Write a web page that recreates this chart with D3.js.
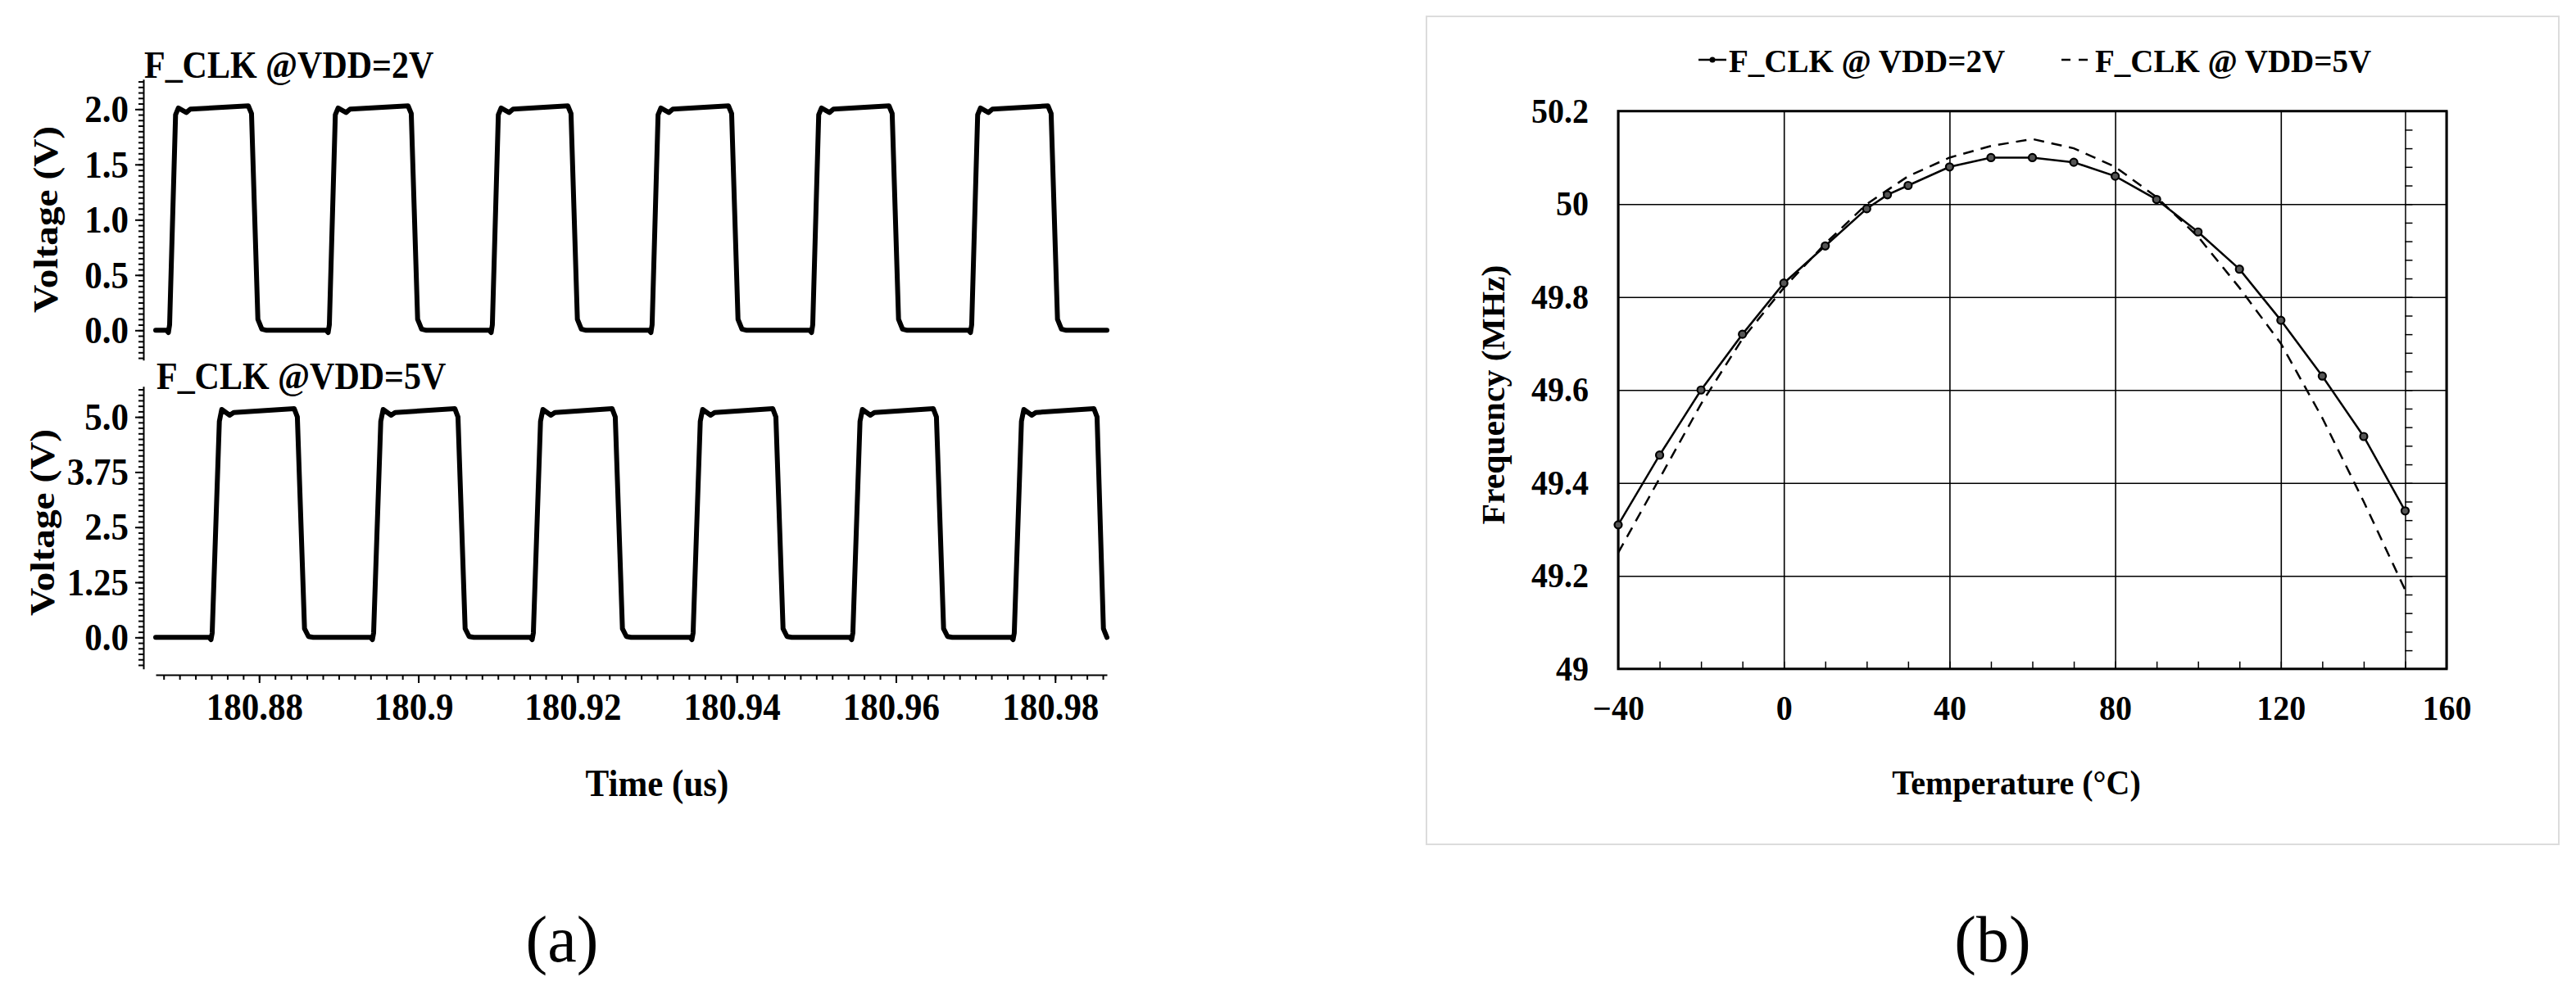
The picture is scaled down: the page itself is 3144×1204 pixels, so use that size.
<!DOCTYPE html>
<html>
<head>
<meta charset="utf-8">
<script src="https://cdnjs.cloudflare.com/ajax/libs/d3/7.8.5/d3.min.js"></script>
<style>
  body { margin: 0; background: #fff; }
  text { font-family: "Liberation Serif", "Times New Roman", serif; font-weight: bold; fill: #000; }
</style>
</head>
<body>
<div id="chart"></div>
<script>
var width = 3144;
var height = 1204;

// ---- (a) clock waveforms: times are ns after 180.86 us ----
var timeOrigin = 180.86;
var clk2Time = [7.0,
  8.35, 8.60, 8.75, 9.50, 9.85, 10.85, 11.35, 18.64, 19.04, 19.84, 20.34, 20.94,
  28.42, 28.67, 28.82, 29.57, 29.92, 30.92, 31.42, 38.71, 39.11, 39.91, 40.41, 41.01,
  48.90, 49.15, 49.30, 50.05, 50.40, 51.40, 51.90, 58.78, 59.18, 59.98, 60.48, 61.08,
  68.97, 69.22, 69.37, 70.12, 70.47, 71.47, 71.97, 78.96, 79.36, 80.16, 80.66, 81.26,
  89.15, 89.40, 89.55, 90.30, 90.65, 91.65, 92.15, 99.13, 99.53, 100.33, 100.83, 101.43,
  109.12, 109.37, 109.52, 110.27, 110.62, 111.62, 112.12, 119.10, 119.50, 120.30, 120.80, 121.40,
  126.51];
var clk2Volt = [0.0,
  0.0, -0.02, 0.05, 1.95, 2.01, 1.97, 2.0, 2.03, 1.96, 0.1, 0.01, 0.0,
  0.0, -0.02, 0.05, 1.95, 2.01, 1.97, 2.0, 2.03, 1.96, 0.1, 0.01, 0.0,
  0.0, -0.02, 0.05, 1.95, 2.01, 1.97, 2.0, 2.03, 1.96, 0.1, 0.01, 0.0,
  0.0, -0.02, 0.05, 1.95, 2.01, 1.97, 2.0, 2.03, 1.96, 0.1, 0.01, 0.0,
  0.0, -0.02, 0.05, 1.95, 2.01, 1.97, 2.0, 2.03, 1.96, 0.1, 0.01, 0.0,
  0.0, -0.02, 0.05, 1.95, 2.01, 1.97, 2.0, 2.03, 1.96, 0.1, 0.01, 0.0,
  0.0];
var clk5Time = [7.0,
  13.70, 13.95, 14.10, 15.00, 15.30, 16.30, 16.80, 24.40, 24.80, 25.70, 26.20, 26.80,
  33.98, 34.23, 34.38, 35.28, 35.58, 36.58, 37.08, 44.58, 44.98, 45.88, 46.38, 46.98,
  54.05, 54.30, 54.45, 55.35, 55.65, 56.65, 57.15, 64.34, 64.74, 65.64, 66.14, 66.74,
  74.12, 74.37, 74.52, 75.42, 75.72, 76.72, 77.22, 84.52, 84.92, 85.82, 86.32, 86.92,
  94.19, 94.44, 94.59, 95.49, 95.79, 96.79, 97.29, 104.69, 105.09, 105.99, 106.49, 107.09,
  114.47, 114.72, 114.87, 115.77, 116.07, 117.07, 117.57, 124.87, 125.27, 126.07, 126.51];
var clk5Volt = [0.0,
  0.0, -0.05, 0.1, 4.9, 5.17, 5.04, 5.1, 5.19, 5.0, 0.2, 0.02, 0.0,
  0.0, -0.05, 0.1, 4.9, 5.17, 5.04, 5.1, 5.19, 5.0, 0.2, 0.02, 0.0,
  0.0, -0.05, 0.1, 4.9, 5.17, 5.04, 5.1, 5.19, 5.0, 0.2, 0.02, 0.0,
  0.0, -0.05, 0.1, 4.9, 5.17, 5.04, 5.1, 5.19, 5.0, 0.2, 0.02, 0.0,
  0.0, -0.05, 0.1, 4.9, 5.17, 5.04, 5.1, 5.19, 5.0, 0.2, 0.02, 0.0,
  0.0, -0.05, 0.1, 4.9, 5.17, 5.04, 5.1, 5.19, 5.0, 0.2, 0.0];
var timeTicks = [180.88, 180.9, 180.92, 180.94, 180.96, 180.98];
var volt2Ticks = [0, 0.5, 1.0, 1.5, 2.0];
var volt2Labels = ["0.0", "0.5", "1.0", "1.5", "2.0"];
var volt5Ticks = [0, 1.25, 2.5, 3.75, 5.0];
var volt5Labels = ["0.0", "1.25", "2.5", "3.75", "5.0"];

// ---- (b) frequency vs temperature ----
var temp2V = [-40, -30, -20, -10, 0, 10, 20, 25, 30, 40, 50, 60, 70, 80, 90, 100, 110, 120, 130, 140, 150];
var freq2V = [49.31, 49.46, 49.60, 49.72, 49.83, 49.91, 49.99, 50.02, 50.04, 50.08, 50.10, 50.10, 50.09, 50.06, 50.01, 49.94, 49.86, 49.75, 49.63, 49.50, 49.34];
var temp5V = [-40, -30, -20, -10, 0, 10, 20, 30, 40, 50, 60, 70, 80, 90, 100, 110, 120, 130, 140, 150];
var freq5V = [49.25, 49.41, 49.57, 49.71, 49.82, 49.915, 50.00, 50.06, 50.10, 50.125, 50.14, 50.12, 50.08, 50.015, 49.93, 49.82, 49.70, 49.54, 49.36, 49.17];
var tempTicks = [-40, 0, 40, 80, 120, 160];
var freqTicks = [49, 49.2, 49.4, 49.6, 49.8, 50, 50.2];
var freqLabels = ["49", "49.2", "49.4", "49.6", "49.8", "50", "50.2"];

var svg = d3.select("#chart")
  .append("svg")
  .attr("width", width)
  .attr("height", height)
  .style("background", "#fff");

function cleanAxis(g, size) {
  g.attr("font-family", null).attr("font-size", null);
  g.selectAll("text").style("font-size", size + "px");
  g.selectAll("line, path").attr("stroke", "#000");
}

// the scanned figure has slightly taller glyphs than the font: stretch text on screen-vertical
function stretchText(sel, s, rotated) {
  sel.each(function() {
    var b = this.getBBox();
    var t = d3.select(this).attr("transform") || "";
    if (rotated) {
      var cx = b.x + b.width / 2;
      t += " translate(" + cx + ",0) scale(" + s + ",1) translate(" + (-cx) + ",0)";
    } else {
      var cy = b.y + b.height / 2;
      t += " translate(0," + cy + ") scale(1," + s + ") translate(0," + (-cy) + ")";
    }
    d3.select(this).attr("transform", t);
  });
}

// ================= panel (a) =================
var panelA = svg.append("g").attr("class", "panel-a");
var xTime = d3.scaleLinear().domain([180.867, 180.98651]).range([190, 1351]);
var yTop = d3.scaleLinear().domain([-0.27, 2.27]).range([439.75, 96.85]);
var yBot = d3.scaleLinear().domain([-0.713, 5.695]).range([816.7, 471.7]);
var fsA = 43;
var stretchA = 1.1;

function drawVoltAxis(scale, minor, major, labels) {
  var gMinor = panelA.append("g")
    .attr("transform", "translate(175,0)")
    .call(d3.axisLeft(scale).tickValues(minor).tickSize(6).tickSizeOuter(0).tickFormat(""));
  gMinor.call(cleanAxis, fsA);
  gMinor.selectAll("path, line").attr("stroke-width", 2);
  var gMajor = panelA.append("g")
    .attr("transform", "translate(175,0)")
    .call(d3.axisLeft(scale).tickValues(major).tickSize(10).tickPadding(8)
      .tickFormat(function(d, i) { return labels[i]; }));
  gMajor.call(cleanAxis, fsA);
  gMajor.select(".domain").remove();
  gMajor.selectAll("line").attr("stroke-width", 2);
}

drawVoltAxis(yTop, d3.range(-0.25, 2.26, 0.05), volt2Ticks, volt2Labels);
drawVoltAxis(yBot, d3.range(-0.625, 5.7, 0.125), volt5Ticks, volt5Labels);

var gxMinor = panelA.append("g")
  .attr("transform", "translate(0,824)")
  .call(d3.axisBottom(xTime).tickValues(d3.range(180.868, 180.987, 0.002)).tickSize(6).tickSizeOuter(0).tickFormat(""));
gxMinor.call(cleanAxis, fsA);
gxMinor.selectAll("path, line").attr("stroke-width", 2);

var gxMajor = panelA.append("g")
  .attr("transform", "translate(0,824)")
  .call(d3.axisBottom(xTime).tickValues(timeTicks).tickSize(10).tickPadding(13)
    .tickFormat(function(d) { return d3.format("")(+d.toFixed(2)); }));
gxMajor.call(cleanAxis, fsA);
gxMajor.select(".domain").remove();
gxMajor.selectAll("line").attr("stroke-width", 2);
gxMajor.selectAll("text").attr("dx", -6);

function waveLine(scale) {
  return d3.line()
    .x(function(d) { return xTime(timeOrigin + d[0] / 1000); })
    .y(function(d) { return scale(d[1]); });
}

panelA.append("path")
  .datum(d3.zip(clk2Time, clk2Volt))
  .attr("d", waveLine(yTop))
  .attr("fill", "none")
  .attr("stroke", "#000")
  .attr("stroke-width", 6)
  .attr("stroke-linejoin", "round")
  .attr("stroke-linecap", "round");

panelA.append("path")
  .datum(d3.zip(clk5Time, clk5Volt))
  .attr("d", waveLine(yBot))
  .attr("fill", "none")
  .attr("stroke", "#000")
  .attr("stroke-width", 6)
  .attr("stroke-linejoin", "round")
  .attr("stroke-linecap", "round");

panelA.append("text").attr("class", "flat").attr("x", 176).attr("y", 94).style("font-size", "42px").text("F_CLK @VDD=2V");
panelA.append("text").attr("class", "flat").attr("x", 191).attr("y", 474).style("font-size", "42px").text("F_CLK @VDD=5V");

panelA.append("text")
  .attr("class", "rot")
  .attr("transform", "translate(70,268) rotate(-90)")
  .attr("text-anchor", "middle")
  .style("font-size", fsA + "px")
  .text("Voltage (V)");
panelA.append("text")
  .attr("class", "rot")
  .attr("transform", "translate(66,638) rotate(-90)")
  .attr("text-anchor", "middle")
  .style("font-size", fsA + "px")
  .text("Voltage (V)");
panelA.append("text")
  .attr("class", "flat")
  .attr("x", 802).attr("y", 971)
  .attr("text-anchor", "middle")
  .style("font-size", fsA + "px")
  .text("Time (us)");

stretchText(panelA.selectAll(".tick text, text.flat"), stretchA, false);
stretchText(panelA.selectAll("text.rot"), stretchA, true);

// ================= panel (b) =================
var panelB = svg.append("g").attr("class", "panel-b");
var fsB = 40;
var stretchB = 1.04;
panelB.append("rect")
  .attr("x", 1741).attr("y", 20)
  .attr("width", 1382).attr("height", 1011)
  .attr("fill", "none")
  .attr("stroke", "#dcdcdc")
  .attr("stroke-width", 2);

var xTemp = d3.scaleLinear().domain([-40, 160]).range([1975, 2986]);
var yFreq = d3.scaleLinear().domain([49, 50.2]).range([816.8, 135.7]);
var plotW = 2986 - 1975, plotH = 816.8 - 135.7;

var gGridX = panelB.append("g")
  .attr("transform", "translate(0,816.8)")
  .call(d3.axisBottom(xTemp).tickValues(tempTicks).tickSize(-plotH).tickSizeOuter(0).tickFormat(""));
gGridX.select(".domain").remove();
gGridX.selectAll("line").attr("stroke", "#000").attr("stroke-width", 1.6);

var gGridY = panelB.append("g")
  .attr("transform", "translate(1975,0)")
  .call(d3.axisLeft(yFreq).tickValues(freqTicks).tickSize(-plotW).tickSizeOuter(0).tickFormat(""));
gGridY.select(".domain").remove();
gGridY.selectAll("line").attr("stroke", "#000").attr("stroke-width", 1.6);

// minor ticks on the bottom edge, pointing into the plot
var gBotMinor = panelB.append("g")
  .attr("transform", "translate(0,816.8)")
  .call(d3.axisTop(xTemp).tickValues(d3.range(-30, 160, 10)).tickSize(9).tickSizeOuter(0).tickFormat(""));
gBotMinor.select(".domain").remove();
gBotMinor.selectAll("line").attr("stroke", "#000").attr("stroke-width", 1.5);

// secondary axis line at 150 degC with minor ticks
var gSec = panelB.append("g")
  .attr("transform", "translate(" + xTemp(150) + ",0)")
  .call(d3.axisRight(yFreq).tickValues(d3.range(49.04, 50.2, 0.04)).tickSize(9).tickSizeOuter(0).tickFormat(""));
gSec.selectAll("path, line").attr("stroke", "#000").attr("stroke-width", 1.5);

panelB.append("rect")
  .attr("x", 1975).attr("y", 135.7)
  .attr("width", plotW).attr("height", plotH)
  .attr("fill", "none")
  .attr("stroke", "#000")
  .attr("stroke-width", 3);

var gXLab = panelB.append("g")
  .attr("transform", "translate(0,816.8)")
  .call(d3.axisBottom(xTemp).tickValues(tempTicks).tickSize(0).tickPadding(33));
gXLab.call(cleanAxis, fsB);
gXLab.select(".domain").remove();

var gYLab = panelB.append("g")
  .attr("transform", "translate(1975,0)")
  .call(d3.axisLeft(yFreq).tickValues(freqTicks).tickSize(0).tickPadding(36)
    .tickFormat(function(d, i) { return freqLabels[i]; }));
gYLab.call(cleanAxis, fsB);
gYLab.select(".domain").remove();

var freqLine = d3.line()
  .x(function(d) { return xTemp(d[0]); })
  .y(function(d) { return yFreq(d[1]); });

panelB.append("path")
  .datum(d3.zip(temp5V, freq5V))
  .attr("d", freqLine)
  .attr("fill", "none")
  .attr("stroke", "#000")
  .attr("stroke-width", 2.5)
  .attr("stroke-dasharray", "13,9");

panelB.append("path")
  .datum(d3.zip(temp2V, freq2V))
  .attr("d", freqLine)
  .attr("fill", "none")
  .attr("stroke", "#000")
  .attr("stroke-width", 2.5);

panelB.selectAll(".mark2v")
  .data(d3.zip(temp2V, freq2V))
  .enter().append("circle")
  .attr("class", "mark2v")
  .attr("cx", function(d) { return xTemp(d[0]); })
  .attr("cy", function(d) { return yFreq(d[1]); })
  .attr("r", 4.5)
  .attr("fill", "#555")
  .attr("stroke", "#000")
  .attr("stroke-width", 2.2);

// legend
panelB.append("line")
  .attr("x1", 2073).attr("x2", 2107).attr("y1", 73).attr("y2", 73)
  .attr("stroke", "#000").attr("stroke-width", 2.5);
panelB.append("circle")
  .attr("cx", 2090).attr("cy", 73).attr("r", 3.5).attr("fill", "#000");
panelB.append("text").attr("class", "flat").attr("x", 2110).attr("y", 87).style("font-size", "39px").text("F_CLK @ VDD=2V");
panelB.append("line")
  .attr("x1", 2516).attr("x2", 2548).attr("y1", 73).attr("y2", 73)
  .attr("stroke", "#000").attr("stroke-width", 2.5)
  .attr("stroke-dasharray", "11,10");
panelB.append("text").attr("class", "flat").attr("x", 2557).attr("y", 87).style("font-size", "39px").text("F_CLK @ VDD=5V");

panelB.append("text")
  .attr("class", "rot")
  .attr("transform", "translate(1836,482) rotate(-90)")
  .attr("text-anchor", "middle")
  .style("font-size", fsB + "px")
  .text("Frequency (MHz)");
panelB.append("text")
  .attr("class", "flat")
  .attr("x", 2461).attr("y", 969)
  .attr("text-anchor", "middle")
  .style("font-size", fsB + "px")
  .text("Temperature (°C)");

stretchText(panelB.selectAll(".tick text, text.flat"), stretchB, false);
stretchText(panelB.selectAll("text.rot"), stretchB, true);

// panel captions
svg.append("text").attr("x", 686).attr("y", 1174).attr("text-anchor", "middle")
  .style("font-size", "80px").style("font-weight", "normal").text("(a)");
svg.append("text").attr("x", 2432).attr("y", 1174).attr("text-anchor", "middle")
  .style("font-size", "80px").style("font-weight", "normal").text("(b)");
</script>
</body>
</html>
